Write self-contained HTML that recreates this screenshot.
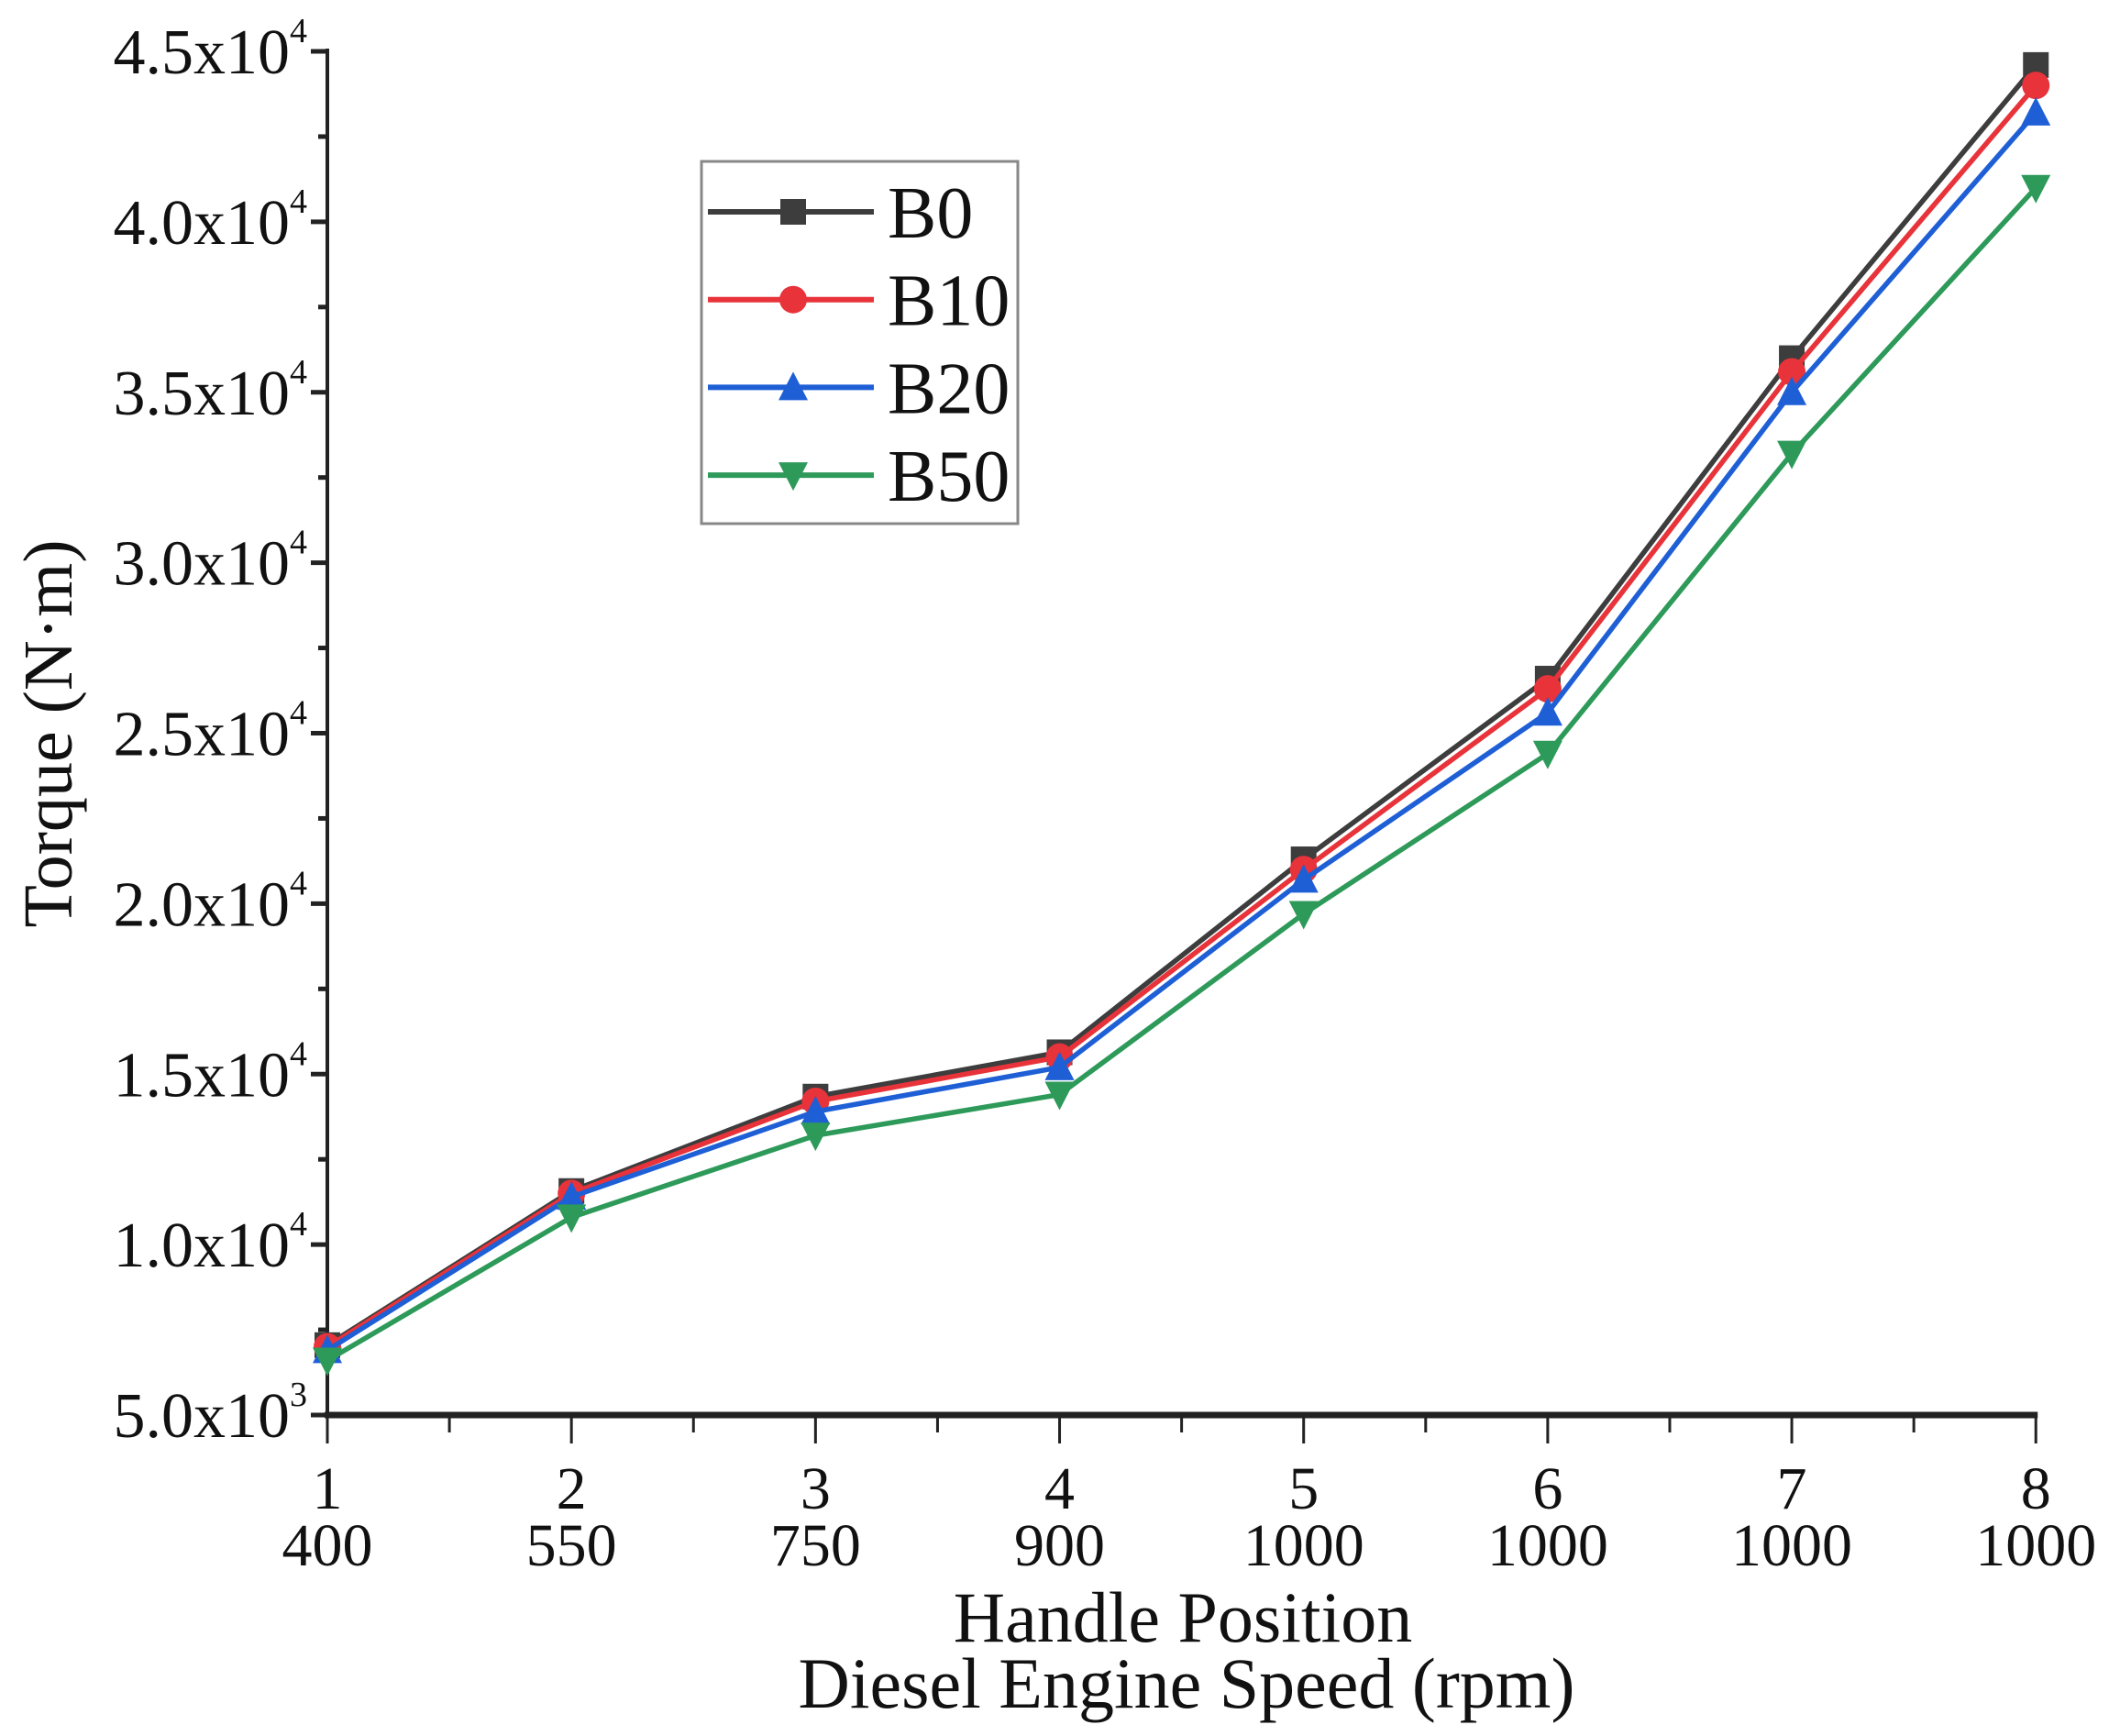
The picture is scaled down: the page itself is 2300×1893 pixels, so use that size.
<!DOCTYPE html>
<html><head><meta charset="utf-8"><style>
html,body{margin:0;padding:0;background:#fff;width:2300px;height:1893px;overflow:hidden}
svg{display:block}
text{font-family:"Liberation Serif",serif;fill:#111}
</style></head><body>
<svg id="s" width="2300" height="1893" viewBox="0 0 2300 1893" xmlns="http://www.w3.org/2000/svg"></svg>
<script>
const s=document.getElementById('s');let h='';
const X0=357,DX=181*2300/1564,Y0=56,DY=(1543-56)/8;
const xp=i=>X0+i*DX, yp=v=>Y0+(45000-v)/5000*DY;
h+=`<line x1="${X0}" y1="${Y0-3}" x2="${X0}" y2="1546" stroke="#222" stroke-width="4"/>`;
h+=`<line x1="${X0-3}" y1="1543" x2="${xp(7)+2}" y2="1543" stroke="#222" stroke-width="7"/>`;
const labs=['5.0x10','1.0x10','1.5x10','2.0x10','2.5x10','3.0x10','3.5x10','4.0x10','4.5x10'];
for(let k=0;k<=8;k++){const v=5000*(k+1),y=yp(v);
 h+=`<line x1="${X0-18}" y1="${y}" x2="${X0}" y2="${y}" stroke="#222" stroke-width="5"/>`;
 h+=`<text x="${X0-22}" y="${y+24}" font-size="70" text-anchor="end">${labs[k]}<tspan dy="-34" font-size="38">${k==0?3:4}</tspan></text>`;
 if(k<8){const ym=yp(v+2500);h+=`<line x1="${X0-10}" y1="${ym}" x2="${X0}" y2="${ym}" stroke="#222" stroke-width="5"/>`;}
}
const sp=[400,550,750,900,1000,1000,1000,1000];
for(let i=0;i<8;i++){const x=xp(i);
 h+=`<line x1="${x}" y1="1543" x2="${x}" y2="1574" stroke="#222" stroke-width="3"/>`;
 if(i<7)h+=`<line x1="${x+DX/2}" y1="1543" x2="${x+DX/2}" y2="1562" stroke="#222" stroke-width="3"/>`;
 h+=`<text x="${x}" y="1645" font-size="66" text-anchor="middle">${i+1}</text>`;
 h+=`<text x="${x}" y="1707" font-size="66" text-anchor="middle">${sp[i]}</text>`;
}
h+=`<text x="1290" y="1790" font-size="78" text-anchor="middle">Handle Position</text>`;
h+=`<text x="1294" y="1862" font-size="78" text-anchor="middle">Diesel Engine Speed (rpm)</text>`;
h+=`<text transform="translate(78,800) rotate(-90)" font-size="76" text-anchor="middle">Torque (N·m)</text>`;
const ser=[
['#3d3d3d','sq',[7050,11570,14340,15640,21300,26600,36000,44600],'B0'],
['#e8333a','ci',[7000,11500,14200,15500,21000,26300,35600,44000],'B10'],
['#1f5fd6','up',[6900,11400,13900,15200,20700,25600,35000,43200],'B20'],
['#2e9a5a','dn',[6600,10800,13200,14400,19700,24400,33200,41000],'B50']];
function mk(t,x,y,c){const r=14;
 if(t=='sq')return `<rect x="${x-r}" y="${y-r}" width="${2*r}" height="${2*r}" fill="${c}"/>`;
 if(t=='ci')return `<circle cx="${x}" cy="${y}" r="${r+1}" fill="${c}"/>`;
 if(t=='up')return `<polygon points="${x},${y-r-3} ${x-r-2},${y+r} ${x+r+2},${y+r}" fill="${c}"/>`;
 return `<polygon points="${x},${y+r+3} ${x-r-2},${y-r} ${x+r+2},${y-r}" fill="${c}"/>`;}
ser.forEach(([c,t,d])=>{h+=`<polyline fill="none" stroke="${c}" stroke-width="5.5" points="${d.map((v,i)=>xp(i)+','+yp(v)).join(' ')}"/>`;
 d.forEach((v,i)=>h+=mk(t,xp(i),yp(v),c));});
h+=`<rect x="765" y="176" width="345" height="395" fill="#fff" stroke="#888" stroke-width="3"/>`;
ser.forEach(([c,t,d,n],j)=>{const y=231+j*95.7;
 h+=`<line x1="772" y1="${y}" x2="953" y2="${y}" stroke="${c}" stroke-width="6"/>`+mk(t,865,y,c);
 h+=`<text x="968" y="${y+28}" font-size="80">${n}</text>`;});
s.innerHTML=h;
</script>
</body></html>
